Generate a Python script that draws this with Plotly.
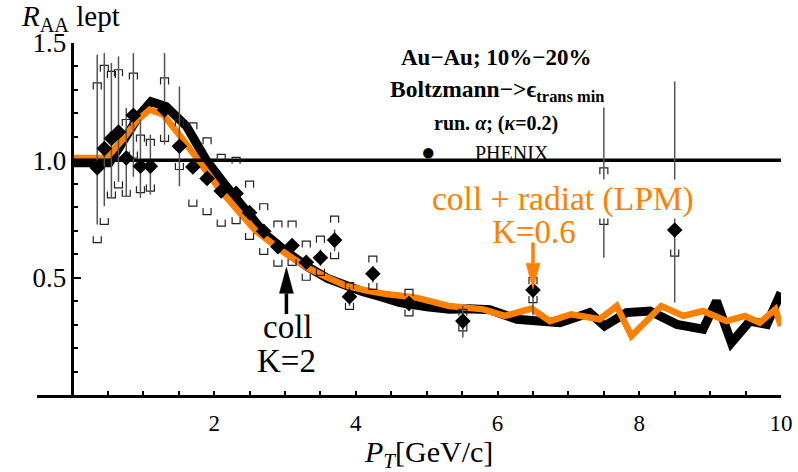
import plotly.graph_objects as go

# ---------------- data ----------------
# PHENIX points
pt_x = [0.35, 0.45, 0.55, 0.65, 0.76, 0.86, 0.96, 1.10, 1.30, 1.51, 1.70, 1.90, 2.10, 2.31,
        2.50, 2.70, 2.90, 3.10, 3.30, 3.50, 3.70, 3.91, 4.24, 4.75, 5.51, 6.50, 7.50, 8.50]
pt_y = [0.968, 1.05, 1.093, 1.121, 1.01, 1.192, 0.975, 0.975, 1.216, 1.06, 0.972, 0.923, 0.869, 0.859,
        0.777, 0.698, 0.632, 0.637, 0.566, 0.585, 0.66, 0.419, 0.517, 0.39, 0.315, 0.447, 0.85, 0.703]
err_top = [1.45, 1.457, 1.415, 1.443, 1.223, 1.457, 1.174, 1.11, 1.457, 1.315, 0.98, 0.93, 0.875, 0.865,
           0.785, 0.705, 0.64, 0.645, 0.575, 0.62, 0.705, 0.46, 0.549, 0.42, 0.38, 0.47, 1.225, 1.337]
err_bot = [0.727, 0.805, 0.84, 0.908, 0.847, 0.93, 0.84, 0.854, 1.067, 0.89, 0.965, 0.915, 0.862, 0.852,
           0.77, 0.69, 0.625, 0.63, 0.557, 0.55, 0.613, 0.38, 0.479, 0.36, 0.245, 0.34, 0.585, 0.394]
sys_top = [1.33, 1.405, 1.379, 1.386, 1.174, 1.372, 1.107, 1.089, 1.351, 1.174, 1.16, 1.096, 1.025, 1.013,
           0.911, 0.815, 0.741, 0.741, 0.656, 0.677, 0.762, 0.479, 0.592, 0.45, 0.365, 0.50, 0.968, 0.81]
sys_bot = [0.649, 0.727, 0.84, 0.883, 0.847, 1.01, 0.862, 0.869, 1.081, 0.961, 0.805, 0.769, 0.72, 0.73,
           0.663, 0.599, 0.549, 0.552, 0.489, 0.51, 0.581, 0.365, 0.45, 0.337, 0.273, 0.394, 0.727, 0.592]

# model curves
coll_x = [0.0, 0.3, 0.52, 0.64, 0.76, 0.95, 1.11, 1.32, 1.61, 1.89, 2.17, 2.45, 2.72, 3.0, 3.3, 3.6,
          3.87, 4.1, 4.34, 4.62, 5.0, 5.32, 5.6, 5.89, 6.27, 6.55, 6.88, 7.1, 7.3, 7.51, 7.82, 8.15,
          8.53, 8.9, 9.09, 9.3, 9.56, 9.8, 10.0]
coll_y = [0.99, 0.99, 0.99, 1.045, 1.10, 1.195, 1.25, 1.23, 1.145, 1.0, 0.89, 0.79, 0.685, 0.615, 0.55, 0.497,
          0.462, 0.44, 0.42, 0.394, 0.376, 0.365, 0.368, 0.363, 0.323, 0.32, 0.308, 0.33, 0.351, 0.294, 0.351, 0.358,
          0.301, 0.28, 0.40, 0.223, 0.315, 0.301, 0.436]
rad_x = [0.0, 0.3, 0.48, 0.71, 0.90, 1.09, 1.28, 1.56, 1.79, 2.08, 2.36, 2.59, 3.0, 3.3, 3.6, 3.87,
         4.15, 4.43, 4.85, 5.32, 5.80, 6.10, 6.48, 6.74, 7.04, 7.44, 7.68, 7.89, 8.31, 8.62, 8.90,
         9.23, 9.49, 9.70, 9.92, 10.0]
rad_y = [1.01, 1.01, 1.01, 1.089, 1.166, 1.216, 1.195, 1.089, 0.99, 0.876, 0.777, 0.698, 0.605, 0.545, 0.50, 0.465,
         0.445, 0.43, 0.415, 0.379, 0.365, 0.337, 0.368, 0.315, 0.344, 0.323, 0.379, 0.251, 0.379, 0.337, 0.358,
         0.315, 0.337, 0.308, 0.365, 0.294]

ref_level = 1.0
x_ticks = [2, 4, 6, 8, 10]
y_ticks = [0.5, 1.0, 1.5]
y_ticktext = ["0.5", "1.0", "1.5"]

ORANGE = "#FF8000"
X_RANGE = [-0.5, 10]
Y_RANGE = [0, 1.5]
W, H = 798, 472
ML, MR, MT, MB = 37, 17, 43, 77
px_per_x = (W - ML - MR) / (X_RANGE[1] - X_RANGE[0])
px_per_y = (H - MT - MB) / (Y_RANGE[1] - Y_RANGE[0])

fig = go.Figure()

# curves
fig.add_trace(go.Scatter(x=coll_x, y=coll_y, mode="lines",
                         line=dict(color="black", width=9), hoverinfo="skip"))
fig.add_trace(go.Scatter(x=rad_x, y=rad_y, mode="lines",
                         line=dict(color=ORANGE, width=6.5), hoverinfo="skip"))

# reference line at 1
fig.add_trace(go.Scatter(x=[0, X_RANGE[1]], y=[ref_level, ref_level], mode="lines",
                         line=dict(color="black", width=3.5), hoverinfo="skip"))

# systematic brackets
bw = 4 / px_per_x
bh = 6.5 / px_per_y
bx, by = [], []
for x, t, b in zip(pt_x, sys_top, sys_bot):
    bx += [x - bw, x - bw, x + bw, x + bw, None]
    by += [t - bh, t, t, t - bh, None]
    bx += [x - bw, x - bw, x + bw, x + bw, None]
    by += [b + bh, b, b, b + bh, None]
fig.add_trace(go.Scatter(x=bx, y=by, mode="lines",
                         line=dict(color="#222222", width=1.2), hoverinfo="skip"))

# data points with stat errors
fig.add_trace(go.Scatter(
    x=pt_x, y=pt_y, mode="markers",
    marker=dict(symbol="diamond", size=12, color="black"),
    error_y=dict(type="data", symmetric=False,
                 array=[t - y for t, y in zip(err_top, pt_y)],
                 arrayminus=[y - b for b, y in zip(err_bot, pt_y)],
                 width=0, thickness=1.5, color="#555555"),
))

fig.update_layout(
    width=W, height=H,
    margin=dict(l=ML, r=MR, t=MT, b=MB, autoexpand=False),
    plot_bgcolor="white", paper_bgcolor="white",
    showlegend=False,
    font=dict(family="Liberation Serif, Times New Roman, serif", color="black"),
    xaxis=dict(range=X_RANGE, showline=True, linecolor="black", linewidth=2.5,
               ticks="inside", tickvals=x_ticks, ticklen=4, tickwidth=2, tickcolor="black",
               minor=dict(dtick=0.5, tick0=0, ticks="inside", ticklen=4, tickwidth=2, tickcolor="black"),
               showgrid=False, zeroline=False, tickfont=dict(size=23), ticklabelstandoff=6,
               automargin=False),
    yaxis=dict(range=Y_RANGE, anchor="free", position=(0 - X_RANGE[0]) / (X_RANGE[1] - X_RANGE[0]),
               showline=True, linecolor="black", linewidth=2.5,
               ticks="inside", tickvals=y_ticks, ticktext=y_ticktext, ticklen=7, tickwidth=2,
               tickcolor="black",
               minor=dict(dtick=0.1, tick0=0, ticks="inside", ticklen=4, tickwidth=2, tickcolor="black"),
               showgrid=False, zeroline=False, tickfont=dict(size=27), ticklabelstandoff=0,
               automargin=False),
)

def pxx(p):
    return (p - ML) / (W - ML - MR)

def pxy(p):
    return (H - MB - p) / (H - MT - MB)

ann = []
ann.append(dict(text="<i>P</i><sub><i>T</i></sub>[GeV/c]", x=pxx(428), y=pxy(454),
                font=dict(size=30)))
ann.append(dict(text="<i>R</i><sub>AA</sub> lept", x=pxx(19), y=pxy(18), xanchor="left",
                font=dict(size=29)))
ann.append(dict(text="<b>Au−Au; 10%−20%</b>", x=pxx(496), y=pxy(57), font=dict(size=23)))
ann.append(dict(text="<b>Boltzmann−>ϵ<sub>trans min</sub></b>", x=pxx(497), y=pxy(91),
                font=dict(size=23.5)))
ann.append(dict(text="<b>run. <i>α</i>; (<i>κ</i>=0.2)</b>", x=pxx(496), y=pxy(123),
                font=dict(size=20)))
ann.append(dict(text="●", x=pxx(428), y=pxy(152), font=dict(size=24)))
ann.append(dict(text="PHENIX", x=pxx(512), y=pxy(153), font=dict(size=20)))
ann.append(dict(text="coll + radiat (LPM)", x=pxx(563), y=pxy(199), font=dict(size=33.5, color=ORANGE),
                bgcolor="white", borderpad=0))
ann.append(dict(text="K=0.6", x=pxx(534), y=pxy(232), font=dict(size=33, color=ORANGE)))
ann.append(dict(text="coll", x=pxx(287), y=pxy(327), font=dict(size=33)))
ann.append(dict(text="K=2", x=pxx(286), y=pxy(361), font=dict(size=33)))
for a in ann:
    a.update(xref="paper", yref="paper", showarrow=False)
    a.setdefault("xanchor", "center")
    a.setdefault("yanchor", "middle")
fig.update_layout(annotations=ann)

# arrows (shaft + long narrow head)
def arrow(x, y_tail, y_tip, color):
    hw = 7 / px_per_x
    hl = 26 / px_per_y
    base = y_tip - hl if y_tip > y_tail else y_tip + hl
    fig.add_shape(type="line", xref="x", yref="y", x0=x, x1=x, y0=y_tail, y1=base,
                  line=dict(color=color, width=3.5))
    fig.add_shape(type="path", xref="x", yref="y",
                  path=f"M {x - hw} {base} L {x} {y_tip} L {x + hw} {base} Z",
                  fillcolor=color, line=dict(color=color, width=0.5))

arrow(3.02, 0.345, 0.544, "black")
arrow(6.5, 0.65, 0.451, ORANGE)

fig.write_html("out.html", config={"displayModeBar": False},
               post_script="document.body.style.margin='0px';document.body.style.overflow='hidden';")
